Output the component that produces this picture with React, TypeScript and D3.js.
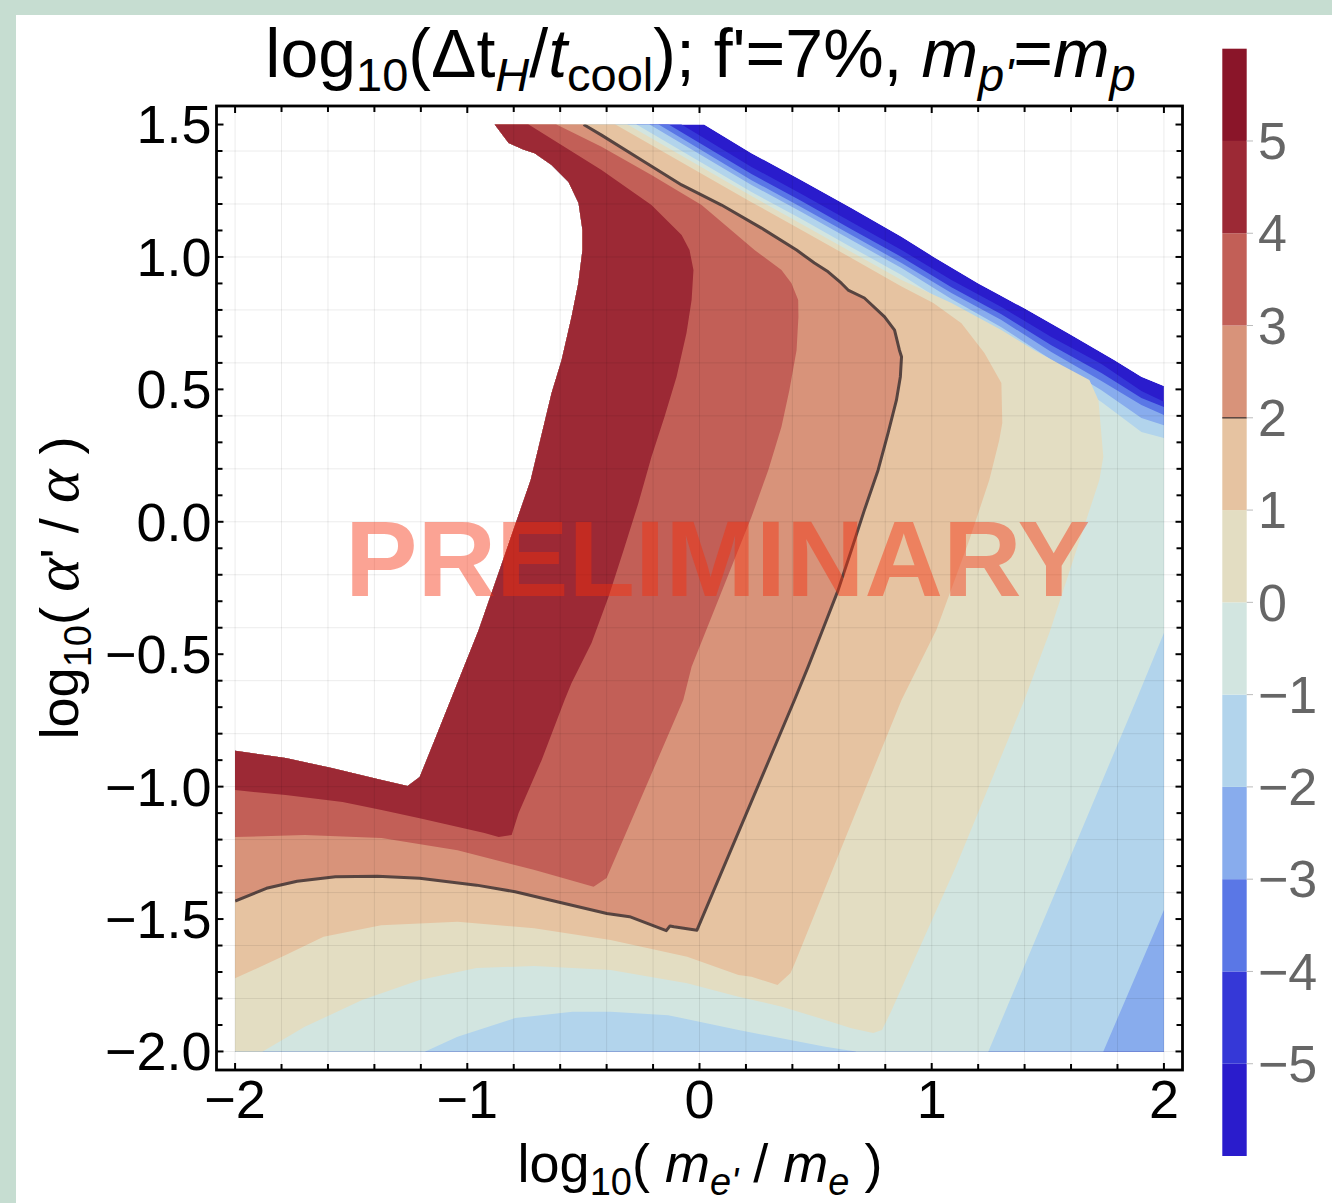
import React from 'react';
import * as d3 from 'd3';

type Pt = [number, number];

// contour levels and the fill colour of each band [level_i, level_i+1]
const levelEdges = [-6, -5, -4, -3, -2, -1, 0, 1, 2, 3, 4, 5, 6];
const bandColors = [
  '#2a1ccc', '#3538d7', '#5a77e6', '#88aced', '#b2d4ec', '#d2e5e0',
  '#e3ddc2', '#e6c3a1', '#d8937a', '#c25f57', '#9c2935', '#8a1529',
];
const colorbarTicks = [-5, -4, -3, -2, -1, 0, 1, 2, 3, 4, 5];
const xMajorTicks = [-2, -1, 0, 1, 2];
const yMajorTicks = [-2, -1.5, -1, -0.5, 0, 0.5, 1, 1.5];
const highlightedLevel = 2;

// upper-right limit of the computed region (right edge -> top edge)
const validEdgeTop: Pt[] = [
  [2.0, 0.513], [1.903, 0.548], [1.786, 0.611], [1.588, 0.712], [1.399, 0.806],
  [1.279, 0.863], [1.201, 0.9], [1.007, 1.001], [0.87, 1.076], [0.654, 1.185],
  [0.439, 1.29], [0.224, 1.392], [0.02, 1.5],
];
// outline of the uncomputed pocket on the upper left (top edge -> left edge)
const holeEdge: Pt[] = [
  [-0.882, 1.5], [-0.822, 1.43], [-0.759, 1.406], [-0.71, 1.392], [-0.637, 1.347],
  [-0.564, 1.283], [-0.521, 1.204], [-0.504, 1.102], [-0.504, 1.026], [-0.522, 0.901],
  [-0.551, 0.774], [-0.594, 0.61], [-0.637, 0.486], [-0.727, 0.158], [-0.839, -0.126],
  [-0.951, -0.409], [-1.132, -0.805], [-1.205, -0.964], [-1.257, -0.998], [-1.369, -0.975],
  [-1.584, -0.93], [-1.782, -0.892], [-2.0, -0.865],
];

// iso-lines (left/bottom edge -> top edge)
const iso4: Pt[] = [
  [-2.0, -1.013], [-1.782, -1.032], [-1.537, -1.058], [-1.369, -1.088], [-1.205, -1.119],
  [-0.926, -1.175], [-0.865, -1.19], [-0.809, -1.183], [-0.779, -1.1], [-0.68, -0.9],
  [-0.581, -0.673], [-0.551, -0.609], [-0.465, -0.458], [-0.392, -0.284], [-0.327, -0.107],
  [-0.263, 0.071], [-0.207, 0.245], [-0.151, 0.396], [-0.099, 0.547], [-0.056, 0.713],
  [-0.034, 0.837], [-0.026, 0.951], [-0.043, 1.026], [-0.077, 1.083], [-0.207, 1.196],
  [-0.422, 1.328], [-0.736, 1.5],
];
const iso3: Pt[] = [
  [-2.0, -1.19], [-1.7, -1.183], [-1.369, -1.194], [-1.042, -1.24], [-0.71, -1.315],
  [-0.456, -1.378], [-0.4, -1.345], [-0.07, -0.673], [-0.034, -0.547], [0.052, -0.359],
  [0.138, -0.17], [0.224, 0.019], [0.296, 0.195], [0.353, 0.359], [0.387, 0.497],
  [0.418, 0.648], [0.426, 0.774], [0.425, 0.837], [0.396, 0.901], [0.353, 0.951],
  [0.237, 1.026], [0.009, 1.196], [-0.207, 1.309], [-0.422, 1.416], [-0.616, 1.5],
];
const iso2: Pt[] = [
  [-2.0, -1.432], [-1.865, -1.384], [-1.733, -1.357], [-1.568, -1.34], [-1.387, -1.338],
  [-1.205, -1.346], [-0.96, -1.372], [-0.794, -1.397], [-0.613, -1.435], [-0.399, -1.479],
  [-0.301, -1.491], [-0.143, -1.544], [-0.127, -1.526], [-0.11, -1.529], [-0.011, -1.542],
  [0.409, -0.673], [0.468, -0.547], [0.525, -0.42], [0.597, -0.258], [0.654, -0.107],
  [0.71, 0.044], [0.769, 0.195], [0.812, 0.335], [0.848, 0.459], [0.865, 0.548],
  [0.87, 0.623], [0.861, 0.648], [0.84, 0.724], [0.797, 0.774], [0.71, 0.845],
  [0.64, 0.875], [0.611, 0.901], [0.554, 0.944], [0.495, 0.977], [0.418, 1.026],
  [0.267, 1.109], [0.095, 1.196], [-0.077, 1.272], [-0.25, 1.366], [-0.422, 1.46],
  [-0.499, 1.5],
];
const iso1: Pt[] = [
  [-2.0, -1.724], [-1.782, -1.636], [-1.619, -1.567], [-1.371, -1.523], [-1.042, -1.51],
  [-0.712, -1.535], [-0.383, -1.579], [-0.053, -1.642], [0.168, -1.711], [0.224, -1.718],
  [0.336, -1.749], [0.392, -1.704], [0.411, -1.666], [0.637, -1.175], [0.87, -0.673],
  [1.02, -0.409], [1.162, -0.069], [1.248, 0.158], [1.291, 0.309], [1.304, 0.373],
  [1.3, 0.524], [1.227, 0.637], [1.128, 0.75], [1.007, 0.826], [0.87, 0.888],
  [0.654, 0.996], [0.439, 1.102], [0.224, 1.207], [-0.362, 1.5],
];
const iso0: Pt[] = [
  [-1.881, -2.0], [-1.7, -1.907], [-1.453, -1.806], [-1.205, -1.73], [-0.96, -1.685],
  [-0.712, -1.677], [-0.383, -1.692], [-0.053, -1.742], [0.168, -1.793], [0.355, -1.831],
  [0.542, -1.881], [0.654, -1.912], [0.748, -1.93], [0.786, -1.919], [0.822, -1.855],
  [1.104, -1.303], [1.399, -0.673], [1.511, -0.409], [1.623, -0.107], [1.722, 0.158],
  [1.739, 0.246], [1.718, 0.459], [1.679, 0.535], [1.558, 0.592], [1.442, 0.648],
  [1.3, 0.724], [1.085, 0.826], [0.87, 0.913], [0.654, 1.019], [0.439, 1.124],
  [0.224, 1.23], [-0.31, 1.5],
];
const isoM1Bottom: Pt[] = [
  [-1.181, -2.0], [-1.042, -1.944], [-0.794, -1.874], [-0.547, -1.85], [-0.383, -1.85],
  [-0.135, -1.863], [0.168, -1.919], [0.542, -1.982], [0.673, -2.0],
];
const isoM1Right: Pt[] = [[1.244, -2.0], [1.881, -0.673], [2.0, -0.42]];
const isoM1Top: Pt[] = [
  [2.0, 0.316], [1.903, 0.339], [1.731, 0.452], [1.515, 0.573], [1.3, 0.701],
  [1.085, 0.811], [0.87, 0.932], [0.654, 1.037], [0.439, 1.143], [0.224, 1.245],
  [-0.271, 1.5],
];
const isoM2Corner: Pt[] = [[1.739, -2.0], [2.0, -1.466]];
const isoM2Top: Pt[] = [
  [2.0, 0.365], [1.903, 0.392], [1.731, 0.497], [1.515, 0.612], [1.3, 0.735],
  [1.085, 0.841], [0.87, 0.958], [0.654, 1.064], [0.439, 1.17], [0.224, 1.272],
  [-0.215, 1.5],
];
const isoM3Top: Pt[] = [
  [2.0, 0.403], [1.903, 0.441], [1.731, 0.532], [1.515, 0.641], [1.3, 0.762],
  [1.085, 0.864], [0.87, 0.977], [0.654, 1.083], [0.439, 1.188], [0.224, 1.29],
  [-0.176, 1.5],
];
const isoM4Top: Pt[] = [
  [2.0, 0.433], [1.903, 0.467], [1.731, 0.562], [1.515, 0.667], [1.3, 0.784],
  [1.085, 0.886], [0.87, 1.0], [0.654, 1.105], [0.439, 1.211], [0.224, 1.313],
  [-0.133, 1.5],
];
const isoM5Top: Pt[] = [
  [2.0, 0.453], [1.903, 0.494], [1.731, 0.596], [1.515, 0.698], [1.3, 0.811],
  [1.085, 0.913], [0.87, 1.026], [0.654, 1.132], [0.439, 1.238], [0.224, 1.34],
  [-0.077, 1.5],
];

const FONT = "'Liberation Sans', Arial, Helvetica, sans-serif";
const SERIF = "'Liberation Serif', 'Times New Roman', serif";

export default function App() {
  const W = 1332;
  const H = 1203;
  const fr = { left: 216.5, right: 1182.5, top: 106, bottom: 1070 };
  const x = d3.scaleLinear().domain([-2.08, 2.08]).range([fr.left, fr.right]);
  const y = d3.scaleLinear().domain([-2.07, 1.57]).range([fr.bottom, fr.top]);
  const cb = d3.scaleLinear().domain([-6, 6]).range([1156, 48.7]);
  const line = d3.line<Pt>().x((d) => x(d[0])).y((d) => y(d[1]));
  const closed = (pts: Pt[]) => (line(pts) || '') + 'Z';
  const fmt = d3.format('.1f');
  const fmtInt = d3.format('d');

  // outer bounds used to close the superlevel regions (clipped to the domain)
  const X0 = -2.3, X1 = 2.3, Y0 = -2.3, Y1 = 1.8;
  const last = (p: Pt[]) => p[p.length - 1];

  const domain: Pt[] = [[-2, -2], [2, -2], ...validEdgeTop, ...holeEdge];
  const fromLeft = (iso: Pt[]): Pt[] => [[X0, iso[0][1]], ...iso, [last(iso)[0], Y1], [X0, Y1]];
  const fromTopRight = (iso: Pt[]): Pt[] => [[X0, Y0], [X1, Y0], [X1, iso[0][1]], ...iso, [last(iso)[0], Y1], [X0, Y1]];

  const regions: { level: number; pts: Pt[] }[] = [
    { level: -5, pts: fromTopRight(isoM5Top) },
    { level: -4, pts: fromTopRight(isoM4Top) },
    { level: -3, pts: fromTopRight(isoM3Top) },
    {
      level: -2,
      pts: [[X0, Y0], [isoM2Corner[0][0], Y0], ...isoM2Corner, [X1, last(isoM2Corner)[1]],
        [X1, isoM2Top[0][1]], ...isoM2Top, [last(isoM2Top)[0], Y1], [X0, Y1]],
    },
    {
      level: -1,
      pts: [[X0, Y0], [isoM1Bottom[0][0], Y0], ...isoM1Bottom, [last(isoM1Bottom)[0], Y0],
        [isoM1Right[0][0], Y0], ...isoM1Right, [X1, last(isoM1Right)[1]],
        [X1, isoM1Top[0][1]], ...isoM1Top, [last(isoM1Top)[0], Y1], [X0, Y1]],
    },
    { level: 0, pts: [[iso0[0][0], Y0], ...iso0, [last(iso0)[0], Y1], [X0, Y1], [X0, Y0]] },
    { level: 1, pts: fromLeft(iso1) },
    { level: 2, pts: fromLeft(iso2) },
    { level: 3, pts: fromLeft(iso3) },
    { level: 4, pts: fromLeft(iso4) },
  ];
  const bandColor = (lv: number) => bandColors[levelEdges.indexOf(lv)];

  const xMinor = d3.range(-2, 2.0001, 0.2);
  const yMinor = d3.range(-2, 1.5001, 0.1);
  const yGrid = d3.range(-2, 1.4001, 0.2);

  const tickLen = 7;
  const minorLen = 6;
  const sub = 14;

  return (
    <svg width={W} height={H} style={{ position: 'absolute', left: 0, top: 0 }} xmlns="http://www.w3.org/2000/svg">
      <defs>
        <clipPath id="domainClip">
          <path d={closed(domain)} />
        </clipPath>
      </defs>
      <rect x={0} y={0} width={W} height={H} fill="#c6ddd1" />
      <rect x={16} y={15} width={W - 16} height={H - 15} fill="#ffffff" />

      <g clipPath="url(#domainClip)">
        <path d={closed(domain)} fill={bandColor(-6)} />
        {regions.map((r) => (
          <path key={r.level} d={closed(r.pts)} fill={bandColor(r.level)} />
        ))}
        <path d={line(iso2) || ''} fill="none" stroke="#574440" strokeWidth={3} strokeLinejoin="round" />
      </g>

      {/* grid */}
      <g stroke="#000" strokeOpacity={0.08} strokeWidth={1}>
        {xMinor.map((v, i) => (
          <line key={'gx' + i} x1={x(v)} x2={x(v)} y1={fr.top} y2={fr.bottom} />
        ))}
        {yGrid.map((v, i) => (
          <line key={'gy' + i} x1={fr.left} x2={fr.right} y1={y(v)} y2={y(v)} />
        ))}
      </g>

      {/* frame ticks */}
      <g stroke="#000" strokeWidth={2}>
        {xMinor.map((v, i) => {
          const major = xMajorTicks.some((m) => Math.abs(m - v) < 1e-6);
          const L = major ? tickLen : minorLen;
          return (
            <g key={'tx' + i}>
              <line x1={x(v)} x2={x(v)} y1={fr.bottom} y2={fr.bottom - L} />
              <line x1={x(v)} x2={x(v)} y1={fr.top} y2={fr.top + L} />
            </g>
          );
        })}
        {yMinor.map((v, i) => {
          const major = yMajorTicks.some((m) => Math.abs(m - v) < 1e-6);
          const L = major ? tickLen : minorLen;
          return (
            <g key={'ty' + i}>
              <line x1={fr.left} x2={fr.left + L} y1={y(v)} y2={y(v)} />
              <line x1={fr.right} x2={fr.right - L} y1={y(v)} y2={y(v)} />
            </g>
          );
        })}
      </g>
      <rect x={fr.left} y={fr.top} width={fr.right - fr.left} height={fr.bottom - fr.top}
        fill="none" stroke="#000" strokeWidth={2.8} />

      {/* tick labels */}
      <g fontFamily={FONT} fontSize={54} fill="#000">
        {yMajorTicks.map((v) => (
          <text key={'ly' + v} x={fr.left - 5} y={y(v)} dy="0.35em" textAnchor="end">{fmt(v)}</text>
        ))}
        {xMajorTicks.map((v) => (
          <text key={'lx' + v} x={x(v)} y={1118} textAnchor="middle">{fmtInt(v)}</text>
        ))}
      </g>

      {/* title */}
      <text x={700.5} y={77} textAnchor="middle" fontFamily={FONT} fontSize={68} fill="#000">
        log<tspan dy={sub} fontSize={47}>10</tspan>
        <tspan dy={-sub}>(Δt</tspan>
        <tspan dy={sub} fontSize={47} fontStyle="italic">H</tspan>
        <tspan dy={-sub}>/</tspan>
        <tspan fontStyle="italic">t</tspan>
        <tspan dy={sub} fontSize={47}>cool</tspan>
        <tspan dy={-sub}>{"); f'=7%, "}</tspan>
        <tspan fontStyle="italic">m</tspan>
        <tspan dy={sub} fontSize={47} fontStyle="italic">{"p'"}</tspan>
        <tspan dy={-sub}>=</tspan>
        <tspan fontStyle="italic">m</tspan>
        <tspan dy={sub} fontSize={47} fontStyle="italic">p</tspan>
      </text>

      {/* axis labels */}
      <text x={700} y={1182} textAnchor="middle" fontFamily={FONT} fontSize={54} fill="#000">
        log<tspan dy={13} fontSize={38}>10</tspan>
        <tspan dy={-13}>{'( '}</tspan>
        <tspan fontStyle="italic">m</tspan>
        <tspan dy={13} fontSize={38} fontStyle="italic">{"e'"}</tspan>
        <tspan dy={-13}>{' / '}</tspan>
        <tspan fontStyle="italic">m</tspan>
        <tspan dy={13} fontSize={38} fontStyle="italic">e</tspan>
        <tspan dy={-13}>{' )'}</tspan>
      </text>
      <text transform="translate(78,588) rotate(-90)" textAnchor="middle" fontFamily={FONT} fontSize={54} fill="#000">
        log<tspan dy={13} fontSize={38}>10</tspan>
        <tspan dy={-13}>{'( '}</tspan>
        <tspan fontFamily={SERIF} fontStyle="italic" fontSize={64}>α</tspan>
        <tspan>{"' / "}</tspan>
        <tspan fontFamily={SERIF} fontStyle="italic" fontSize={64}>α</tspan>
        <tspan>{' )'}</tspan>
      </text>

      {/* colour bar */}
      <g>
        {bandColors.map((c, i) => (
          <rect key={'cb' + i} x={1222.3} width={24.4} y={cb(levelEdges[i + 1])}
            height={cb(levelEdges[i]) - cb(levelEdges[i + 1])} fill={c} />
        ))}
        <line x1={1222.3} x2={1246.7} y1={cb(highlightedLevel)} y2={cb(highlightedLevel)}
          stroke="#574440" strokeWidth={1.5} />
        {colorbarTicks.map((v) => (
          <line key={'cbt' + v} x1={1246.7} x2={1253} y1={cb(v)} y2={cb(v)} stroke="#bbb" strokeWidth={1} />
        ))}
        <g fontFamily={FONT} fontSize={52} fill="#666">
          {colorbarTicks.map((v) => (
            <text key={'cbl' + v} x={1258} y={cb(v)} dy="0.35em">{fmtInt(v)}</text>
          ))}
        </g>
      </g>

      {/* watermark */}
      <text x={717.5} y={596} textAnchor="middle" fontFamily={FONT} fontWeight="bold" fontSize={108}
        fill="rgb(246,45,12)" fillOpacity={0.44} textLength={745} lengthAdjust="spacingAndGlyphs">
        PRELIMINARY
      </text>
    </svg>
  );
}
